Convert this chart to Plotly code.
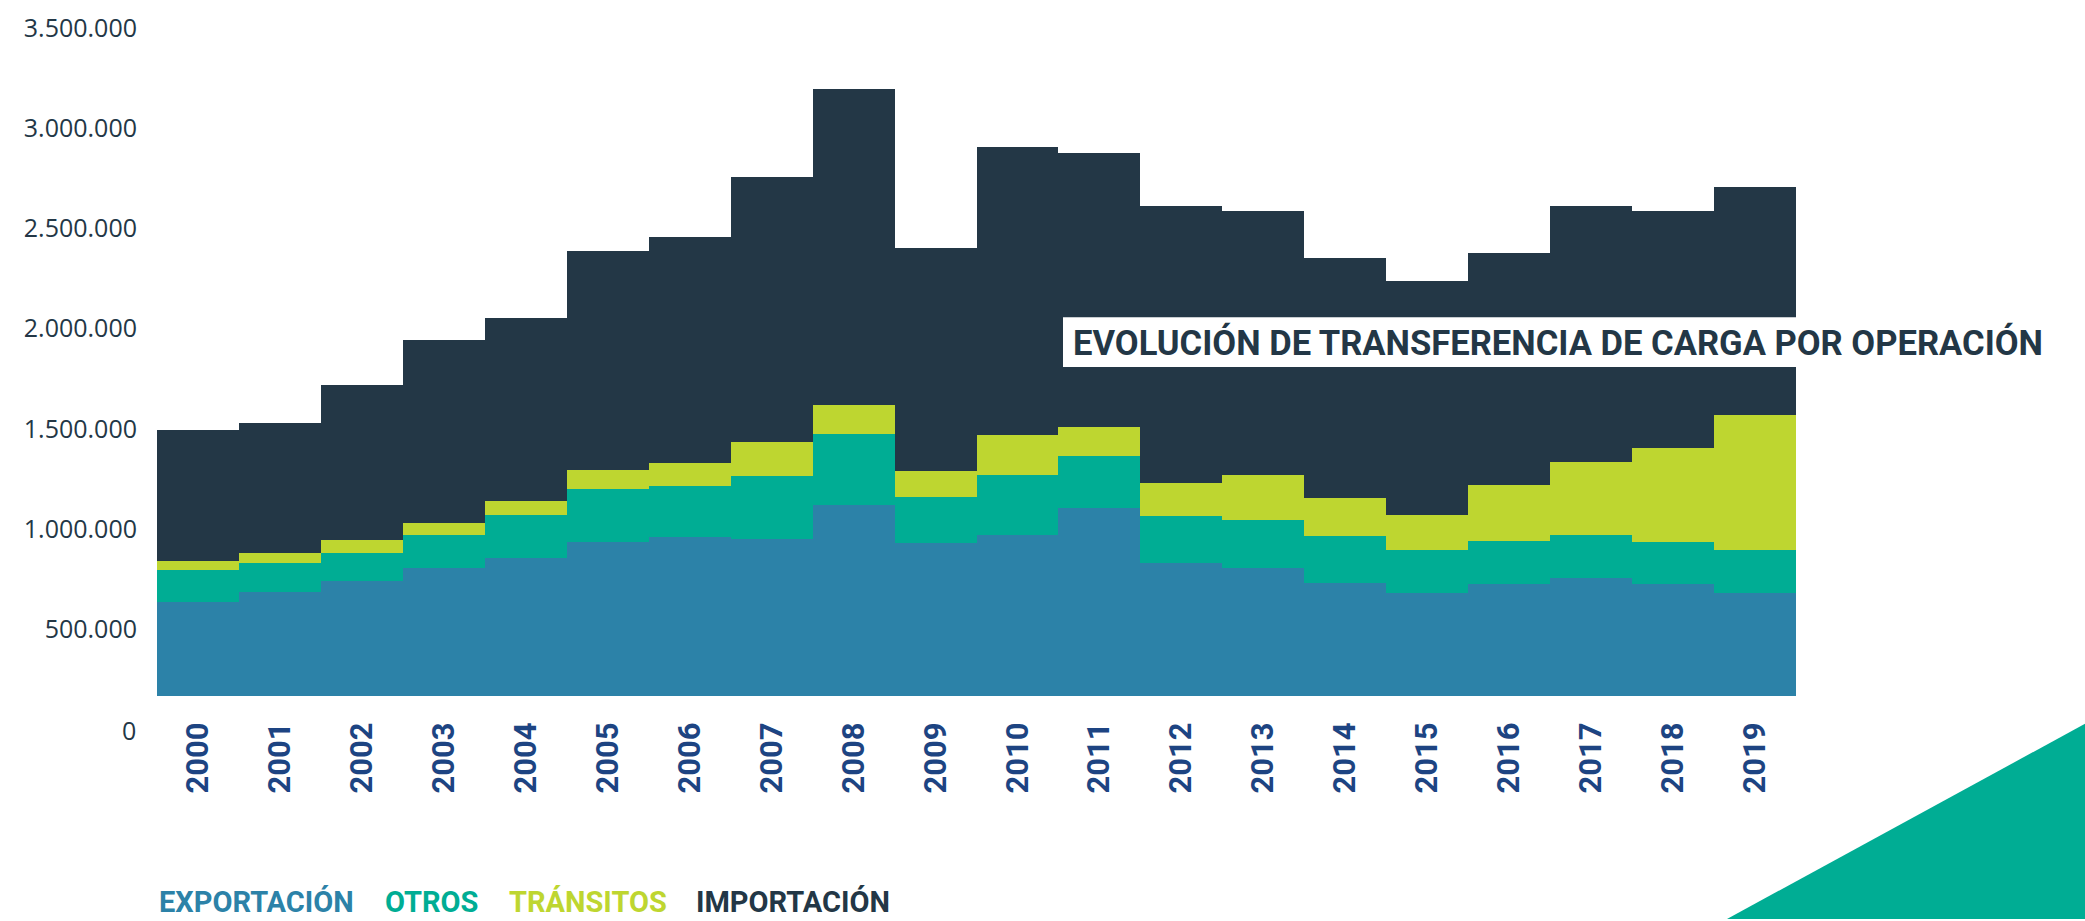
import plotly.graph_objects as go

# --- data (tonnes) ---
years = list(range(2000, 2020))
exportacion = [639000, 690000, 743000, 808000, 855000, 937000, 960000, 954000, 1123000, 930000,
               973000, 1105000, 832000, 807000, 734000, 683000, 726000, 757000, 726000, 683000]
otros = [157000, 142000, 138000, 165000, 217000, 262000, 257000, 313000, 352000, 232000,
         299000, 260000, 237000, 242000, 231000, 216000, 217000, 216000, 211000, 216000]
transitos = [46000, 48000, 66000, 61000, 69000, 99000, 115000, 171000, 147000, 127000,
             198000, 147000, 163000, 224000, 191000, 173000, 280000, 362000, 468000, 672000]
importacion = [652000, 650000, 771000, 908000, 911000, 1089000, 1125000, 1317000, 1571000, 1112000,
               1435000, 1365000, 1379000, 1316000, 1197000, 1166000, 1155000, 1278000, 1184000, 1136000]
y_ticks = [500000, 1000000, 1500000, 2000000, 2500000, 3000000, 3500000]

series = [
    ("EXPORTACIÓN", exportacion, "#2c82a8"),
    ("OTROS", otros, "#00ad94"),
    ("TRÁNSITOS", transitos, "#bed630"),
    ("IMPORTACIÓN", importacion, "#233746"),
]

# canvas / plot area in pixels
W, H = 2085, 921
L, R, T, B = 157, 289, 10, 225
pw, ph = W - L - R, H - T - B


def px(x):
    return (x - L) / pw


def py(y):
    return (H - B - y) / ph


DARK = "#233746"

fig = go.Figure()
for name, vals, color in series:
    fig.add_trace(go.Bar(
        x=years, y=vals, name=name,
        marker=dict(color=color, line=dict(width=0)),
        width=1.0,
    ))

# value axis starts a bit above zero, as in the source graphic
fig.update_layout(
    width=W, height=H,
    margin=dict(l=L, r=R, t=T, b=B),
    barmode="stack", bargap=0,
    showlegend=False,
    plot_bgcolor="white", paper_bgcolor="white",
    separators=",.",
    xaxis=dict(
        range=[1999.5, 2019.5],
        tickvals=years, ticktext=[str(y) for y in years],
        tickangle=-90,
        ticks="outside", ticklen=13, tickcolor="rgba(0,0,0,0)",
        tickfont=dict(family="Roboto", size=31, color="#1d4482", weight="bold"),
        showgrid=False, zeroline=False, showline=False,
    ),
    yaxis=dict(
        range=[169500, 3558800],
        tickvals=y_ticks, tickformat=",d",
        ticks="outside", ticklen=14, tickcolor="rgba(0,0,0,0)",
        tickfont=dict(family="Open Sans", size=25, color=DARK),
        showgrid=False, zeroline=False, showline=False,
    ),
)

annotations = [
    # zero label of the value axis
    dict(text="0", x=px(138), y=py(730.3), xref="paper", yref="paper",
         xanchor="right", yanchor="middle", showarrow=False,
         font=dict(family="Open Sans", size=25, color=DARK)),
    # title over the chart
    dict(text="<b>EVOLUCIÓN DE TRANSFERENCIA DE CARGA POR OPERACIÓN</b>",
         x=px(1071), y=py(339), xref="paper", yref="paper",
         xanchor="left", yanchor="middle", showarrow=False,
         font=dict(family="Roboto", size=34.6, color=DARK)),
]

# coloured legend words at the bottom
legend_x = [157, 383, 507, 694]
for (name, _, color), lx in zip(series, legend_x):
    annotations.append(dict(
        text=f"<b>{name}</b>", x=px(lx), y=py(904), xref="paper", yref="paper",
        xanchor="left", yanchor="middle", showarrow=False,
        font=dict(family="Roboto", size=29, color=color),
    ))

shapes = [
    # white box behind the title
    dict(type="rect", xref="paper", yref="paper",
         x0=px(1063), x1=px(2070), y0=py(364), y1=py(314),
         fillcolor="white", line=dict(width=0), layer="above"),
    # decorative corner triangle
    dict(type="path", xref="paper", yref="paper",
         path=f"M {px(1727)} {py(921)} L {px(2085)} {py(724)} L {px(2085)} {py(921)} Z",
         fillcolor="#00ad94", line=dict(width=0), layer="above"),
]

fig.update_layout(annotations=annotations, shapes=shapes)

# drop the browser's default body margin so the figure sits at the page corner
fig.write_html("out.html", config={"displayModeBar": False},
               post_script="document.body.style.margin='0';")
